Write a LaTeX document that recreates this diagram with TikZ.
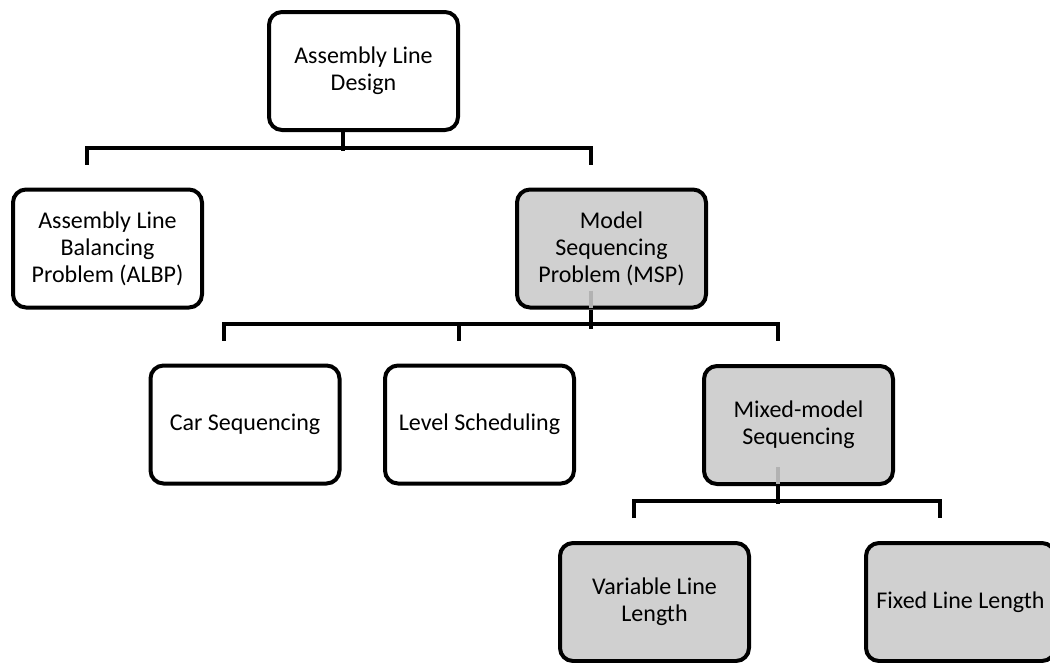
\documentclass[tikz,border=0pt]{standalone}
\usepackage{fontspec}
\setmainfont{Carlito}
\begin{document}
\begin{tikzpicture}[x=1pt,y=-1pt,
  box/.style={draw=black, line width=4pt, rounded corners=13pt, fill=white,
    minimum width=189pt, minimum height=118pt, inner sep=0pt, align=center,
    font=\fontsize{24pt}{27pt}\selectfont},
  shaded/.style={box, fill=boxgray},
  conn/.style={draw=black, line width=4pt},
  stub/.style={draw=stubgray, line width=4pt}]
\definecolor{boxgray}{HTML}{D0D0D0}
\definecolor{stubgray}{HTML}{B2B2B2}
\useasboundingbox (0,0) rectangle (1050,662);

% boxes
\node[box]    (top)      at (363.5,71)    {Assembly Line\\Design};
\node[box]    (albp)     at (107.5,248.5) {Assembly Line\\Balancing\\Problem (ALBP)};
\node[shaded] (msp)      at (611.5,248.5) {Model\\Sequencing\\Problem (MSP)};
\node[box]    (car)      at (245,424.5)   {Car Sequencing};
\node[box]    (level)    at (479.5,424.5) {Level Scheduling};
\node[shaded] (mixed)    at (798.5,425)   {Mixed-model\\Sequencing};
\node[shaded] (variable) at (654.5,602)   {Variable Line\\Length};
\node[shaded] (fixed)    at (960.5,602)   {Fixed Line Length};

% level 1: design -> ALBP / MSP
\draw[conn] ([xshift=-21pt]top.south) -- ++(0,19);
\draw[conn] ([xshift=-21pt,yshift=23pt]albp.north) |- ([xshift=-21pt,yshift=40pt]msp.north)
            -- ([xshift=-21pt,yshift=23pt]msp.north);

% level 2: MSP -> car / level / mixed
\draw[stub] ([xshift=-21pt,yshift=19pt]msp.south) -- ([xshift=-21pt,yshift=2pt]msp.south);
\draw[conn] ([xshift=-21pt]msp.south) -- ++(0,19);
\draw[conn] ([xshift=-21pt,yshift=23pt]car.north) |- ([xshift=-21pt,yshift=40pt]mixed.north)
            -- ([xshift=-21pt,yshift=23pt]mixed.north);
\draw[conn] ([xshift=-21pt,yshift=23pt]level.north) -- ([xshift=-21pt,yshift=41pt]level.north);

% level 3: mixed -> variable / fixed
\draw[stub] ([xshift=-21pt,yshift=19pt]mixed.south) -- ([xshift=-21pt,yshift=2pt]mixed.south);
\draw[conn] ([xshift=-21pt]mixed.south) -- ++(0,18);
\draw[conn] ([xshift=-21pt,yshift=23pt]variable.north) |- ([xshift=-21pt,yshift=40pt]fixed.north)
            -- ([xshift=-21pt,yshift=23pt]fixed.north);
\end{tikzpicture}
\end{document}
